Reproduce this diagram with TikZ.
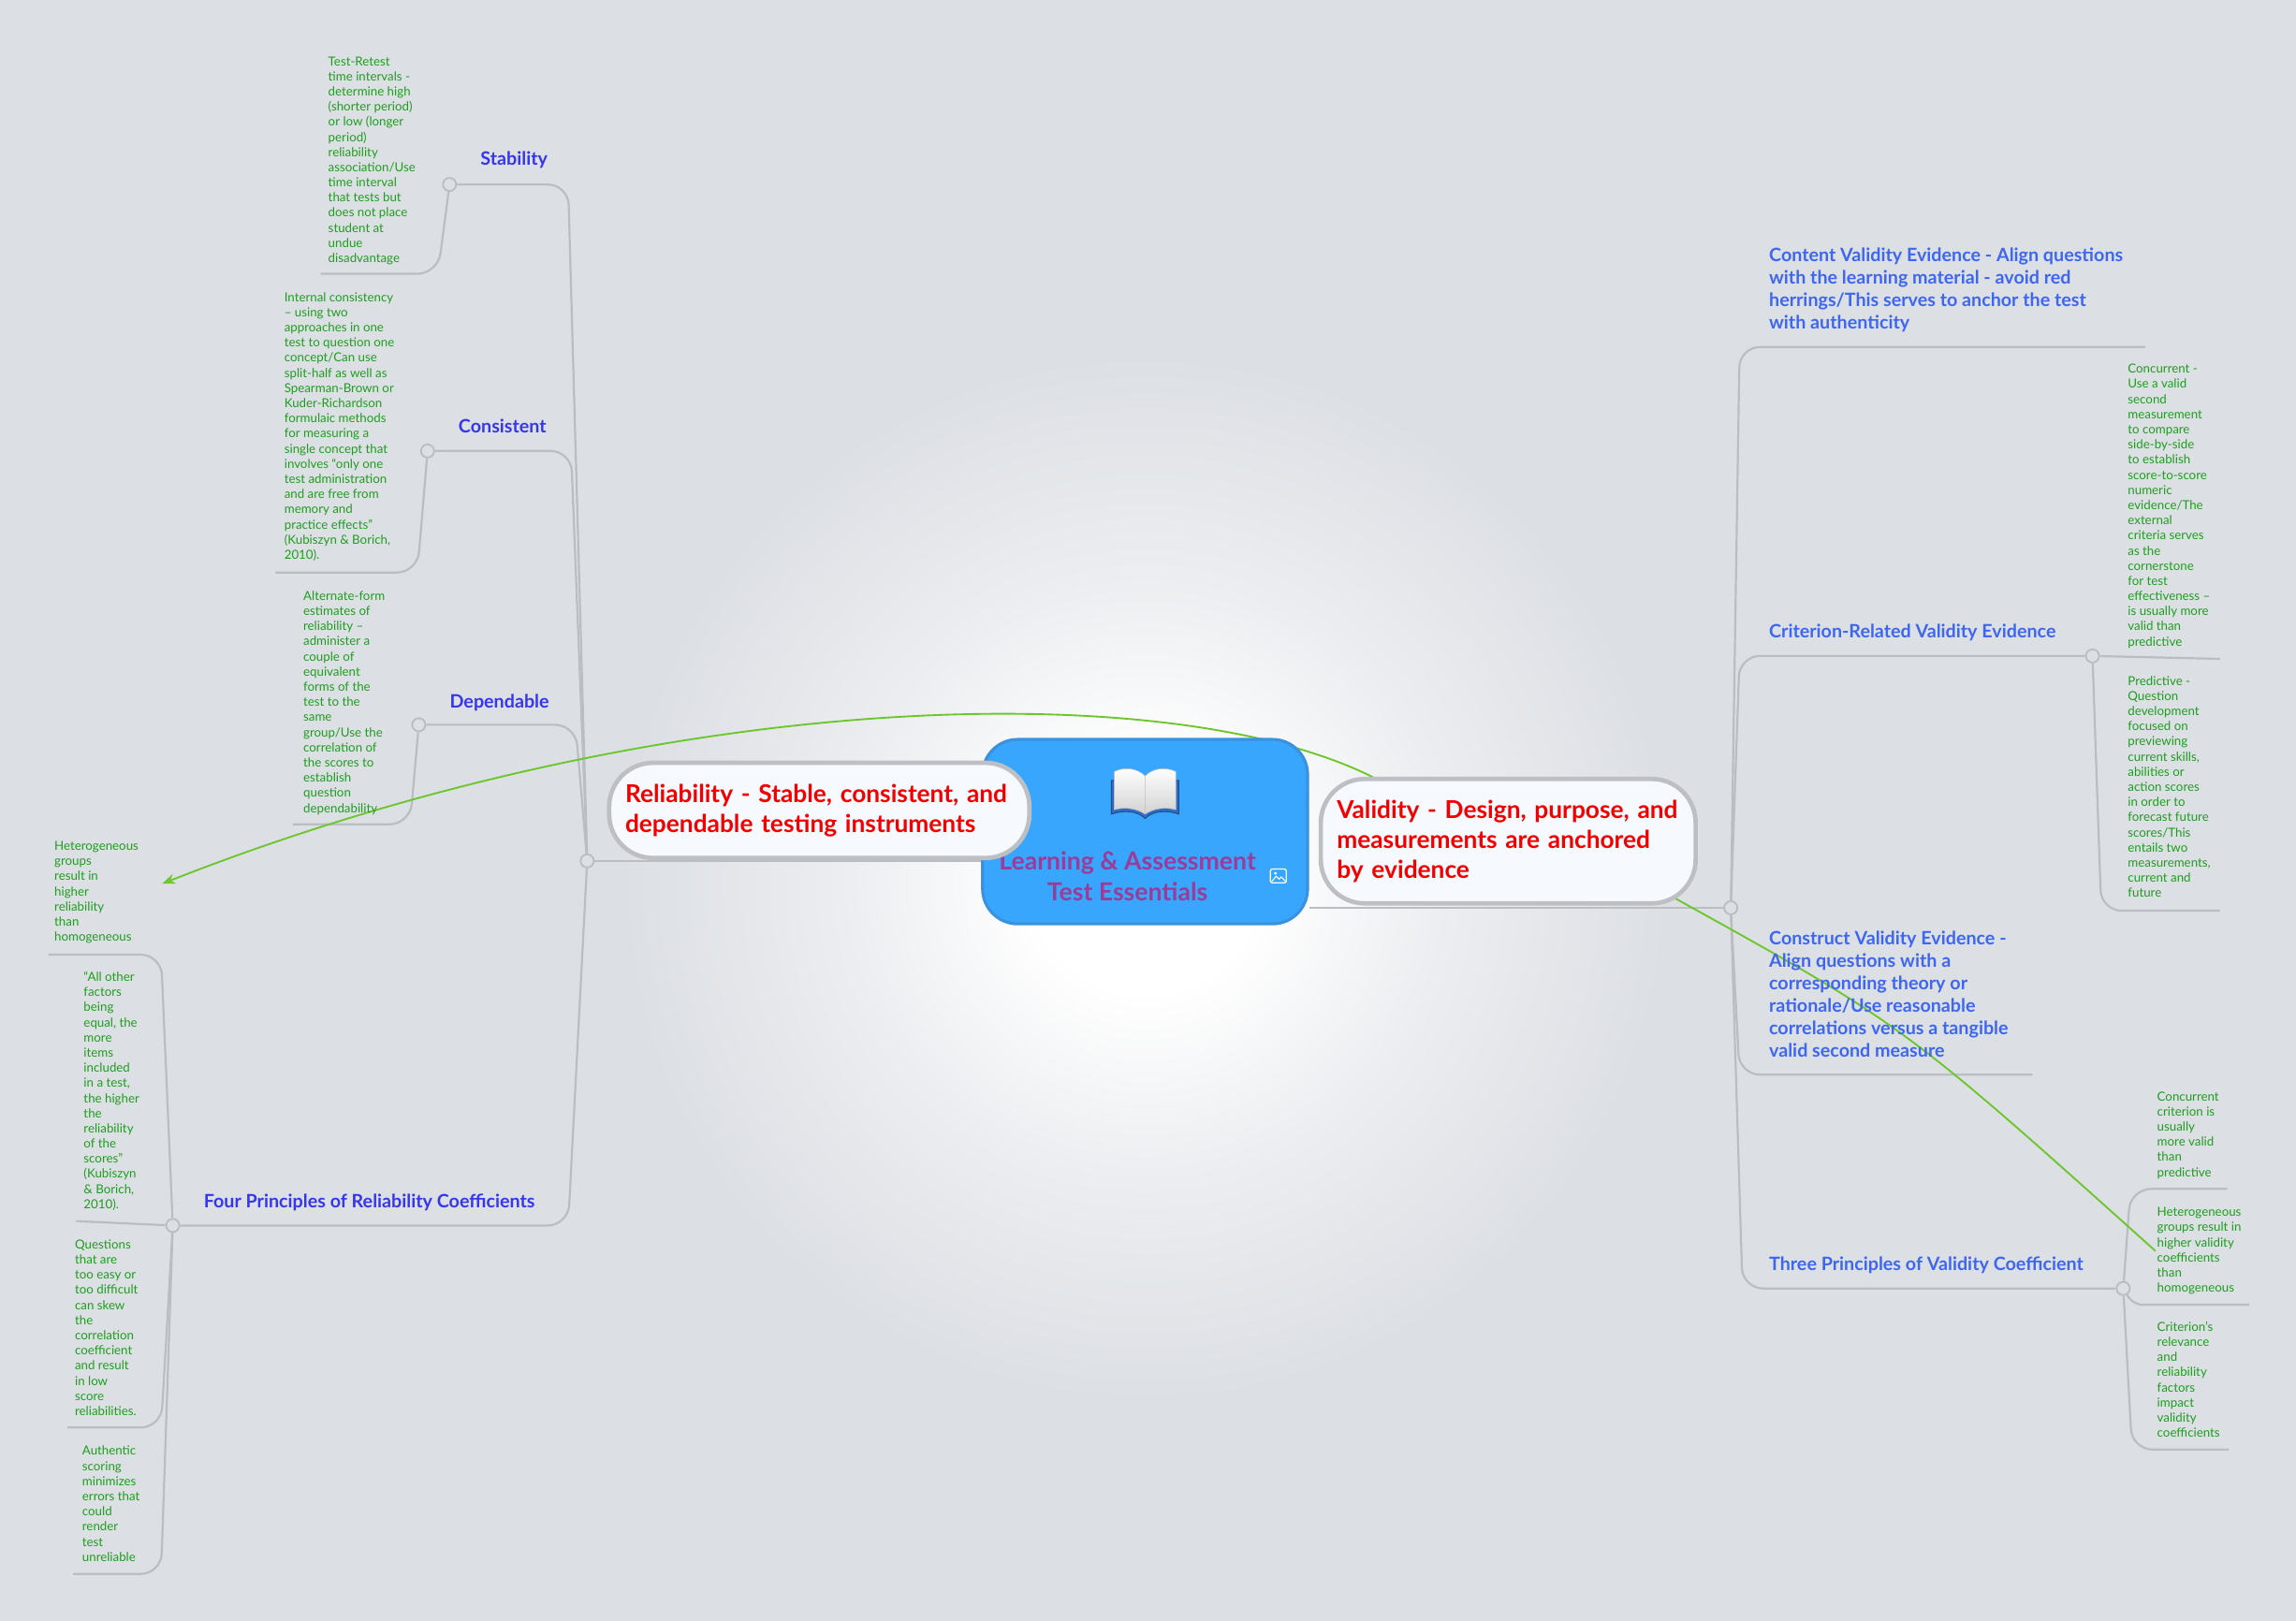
\documentclass[tikz,border=0pt]{standalone}
\usepackage{fontspec}
\setmainfont{Lato}
\usetikzlibrary{arrows.meta,calc}

\definecolor{bgc}{HTML}{DCDFE4}
\definecolor{linegrey}{HTML}{BABDC1}
\definecolor{leafgreen}{HTML}{1E9E1E}
\definecolor{relgreen}{HTML}{6CC62C}
\definecolor{leftblue}{HTML}{3636EA}
\definecolor{rightblue}{HTML}{3D66F1}
\definecolor{topicred}{HTML}{F20000}
\definecolor{titlepurple}{HTML}{9B3C98}
\definecolor{ctrblue}{HTML}{38A6FD}
\definecolor{ctredge}{HTML}{3A92DE}
\definecolor{pillfill}{HTML}{F6F9FD}
\definecolor{pilledge}{HTML}{BDBFC3}
\definecolor{bookblue}{HTML}{2E6CC4}

\pgfdeclareradialshading{glow}{\pgfpoint{0bp}{0bp}}{color(0bp)=(white); color(3bp)=(white); color(8bp)=(white!45!bgc); color(14bp)=(bgc); color(25bp)=(bgc); color(50bp)=(bgc)}
\pgfdeclarelayer{bg}
\pgfdeclarelayer{lines}
\pgfsetlayers{bg,lines,main}

\tikzset{
  note/.style={font=\fontsize{8.5}{10.35}\selectfont, text=leafgreen, align=left, inner sep=0pt, anchor=north west},
  subl/.style={font=\bfseries\fontsize{12.6}{15.3}\selectfont, text=leftblue, align=left, inner sep=0pt, anchor=north west},
  subr/.style={subl, text=rightblue},
  pill/.style={draw=pilledge, line width=3pt, fill=pillfill, rounded corners=30pt, text=topicred,
    font=\bfseries\fontsize{16.8}{20.5}\selectfont, align=left, inner xsep=11pt},
  junc/.style={circle, draw=linegrey, line width=1.2pt, fill=bgc, minimum size=9pt, inner sep=0pt},
  branch/.style={draw=linegrey, line width=1.4pt, rounded corners=14pt},
  relation/.style={draw=relgreen, line width=1.2pt},
}

\begin{document}
\begin{tikzpicture}[x=1pt,y=-1pt]
\useasboundingbox (0,0) rectangle (1568,1107);
\begin{pgfonlayer}{bg}
  \fill[bgc] (0,0) rectangle (1568,1107);
  \begin{scope}
    \clip (0,0) rectangle (1568,1107);
    \shade[shading=glow] (782,600) circle (640pt);
  \end{scope}
\end{pgfonlayer}

% centre topic
\node[draw=ctredge, line width=2pt, fill=ctrblue, rounded corners=24pt,
      minimum width=222pt, minimum height=126pt] (ctr) at (782,568) {};
\begin{scope}[shift={(782,543)}] % book icon
  \fill[bookblue, draw=bookblue!70!black, line width=0.6pt]
    (-23,-10) -- (-23,13) .. controls (-14,10) and (-5,11) .. (0,16)
    .. controls (5,11) and (14,10) .. (23,13) -- (23,-10) -- cycle;
  \shade[top color=white, bottom color=gray!35, draw=gray!50, line width=0.4pt]
    (0,-13) .. controls (-6,-19) and (-15,-19) .. (-21,-16) -- (-21,10)
    .. controls (-14,8) and (-6,9) .. (0,13) -- cycle;
  \shade[top color=white, bottom color=gray!35, draw=gray!50, line width=0.4pt]
    (0,-13) .. controls (6,-19) and (15,-19) .. (21,-16) -- (21,10)
    .. controls (14,8) and (6,9) .. (0,13) -- cycle;
\end{scope}
\node[font=\bfseries\fontsize{17}{21}\selectfont, text=titlepurple, align=center] (title) at (770,598.5)
  {Learning \& Assessment\\Test Essentials};
\draw[white, line width=0.8pt, rounded corners=1.5pt] (867.5,593.5) rectangle (878.5,603); % image icon
\draw[white, line width=0.7pt] (868.5,602) -- (871.5,598.5) -- (873.5,600.5) -- (875,599) -- (878,602);
\fill[white] (871,596.5) circle (1pt);

% main topics
\node[pill, minimum width=287pt, minimum height=65pt, text width=265pt] (rel) at (559.5,553.5)
  {Reliability - Stable, consistent, and\\dependable testing instruments};
\node[pill, minimum width=256pt, minimum height=85pt, text width=234pt] (val) at (1030,574.5)
  {Validity - Design, purpose, and\\measurements are anchored\\by evidence};

% junctions
\node[junc] (jL) at (401,588) {};
\node[junc] (jR) at (1182,620) {};
\node[junc] (stabC) at (307,126) {};
\node[junc] (conC) at (292,308) {};
\node[junc] (depC) at (286,495) {};
\node[junc] (fpC) at (118,837) {};
\node[junc] (crC) at (1429,448) {};
\node[junc] (thrC) at (1450,880) {};

% sub topics, left
\node[subl] (stab) at (328,103) {Stability};
\node[subl] (cons) at (313,286) {Consistent};
\node[subl] (dep) at (307,474) {Dependable};
\node[subl] (fp) at (139,815) {Four Principles of Reliability Coefficients};
% sub topics, right
\node[subr] (cv) at (1208,169) {Content Validity Evidence - Align questions\\with the learning material - avoid red\\herrings/This serves to anchor the test\\with authenticity};
\node[subr] (crv) at (1208,426) {Criterion-Related Validity Evidence};
\node[subr] (cn) at (1208,636) {Construct Validity Evidence -\\Align questions with a\\corresponding theory or\\rationale/Use reasonable\\correlations versus a tangible\\valid second measure};
\node[subr] (th) at (1208,858) {Three Principles of Validity Coefficient};

% notes
\node[note] (tr) at (224,38.5) {Test-Retest\\time intervals -\\determine high\\(shorter period)\\or low (longer\\period)\\reliability\\association/Use\\time interval\\that tests but\\does not place\\student at\\undue\\disadvantage};
\node[note] (ic) at (194,199.5) {Internal consistency\\– using two\\approaches in one\\test to question one\\concept/Can use\\split-half as well as\\Spearman-Brown or\\Kuder-Richardson\\formulaic methods\\for measuring a\\single concept that\\involves “only one\\test administration\\and are free from\\memory and\\practice effects”\\(Kubiszyn \& Borich,\\2010).};
\node[note] (af) at (207,403.5) {Alternate-form\\estimates of\\reliability –\\administer a\\couple of\\equivalent\\forms of the\\test to the\\same\\group/Use the\\correlation of\\the scores to\\establish\\question\\dependability};
\node[note] (hr) at (37,574.5) {Heterogeneous\\groups\\result in\\higher\\reliability\\than\\homogeneous};
\node[note] (ao) at (57,663.5) {“All other\\factors\\being\\equal, the\\more\\items\\included\\in a test,\\the higher\\the\\reliability\\of the\\scores”\\(Kubiszyn\\\& Borich,\\2010).};
\node[note] (qu) at (51,846.5) {Questions\\that are\\too easy or\\too difficult\\can skew\\the\\correlation\\coefficient\\and result\\in low\\score\\reliabilities.};
\node[note] (au) at (56,987.5) {Authentic\\scoring\\minimizes\\errors that\\could\\render\\test\\unreliable};
\node[note] (cc) at (1453,248.5) {Concurrent -\\Use a valid\\second\\measurement\\to compare\\side-by-side\\to establish\\score-to-score\\numeric\\evidence/The\\external\\criteria serves\\as the\\cornerstone\\for test\\effectiveness –\\is usually more\\valid than\\predictive};
\node[note] (pr) at (1453,461.5) {Predictive -\\Question\\development\\focused on\\previewing\\current skills,\\abilities or\\action scores\\in order to\\forecast future\\scores/This\\entails two\\measurements,\\current and\\future};
\node[note] (cr) at (1473,745.5) {Concurrent\\criterion is\\usually\\more valid\\than\\predictive};
\node[note] (hv) at (1473,824.5) {Heterogeneous\\groups result in\\higher validity\\coefficients\\than\\homogeneous};
\node[note] (rl) at (1473,902.5) {Criterion’s\\relevance\\and\\reliability\\factors\\impact\\validity\\coefficients};

% free ends of the underlines
\coordinate (trEnd) at (219,187);
\coordinate (icEnd) at (188,391);
\coordinate (afEnd) at (200,563);
\coordinate (hrEnd) at (33,652);
\coordinate (aoEnd) at (52,834);
\coordinate (quEnd) at (46,975);
\coordinate (auEnd) at (50,1075);
\coordinate (cvEnd) at (1465,237);
\coordinate (cnEnd) at (1388,734);
\coordinate (ccEnd) at (1516,450);
\coordinate (prEnd) at (1516,622);
\coordinate (crEnd) at (1521,812);
\coordinate (hvEnd) at (1536,891);
\coordinate (rlEnd) at (1522,990);
\coordinate (valTop) at (940,532);
\coordinate (valLow) at (1143,613);

\begin{pgfonlayer}{lines}
  % left tree
  \draw[branch] (jL) -- (jL -| ctr.west);
  \draw[branch] (jL) -- ([xshift=-13pt]jL |- stabC) -- (stabC);
  \draw[branch] (jL) -- ([xshift=-11pt]jL |- conC) -- (conC);
  \draw[branch] (jL) -- ([xshift=-8pt]jL |- depC) -- (depC);
  \draw[branch] (jL) -- ([xshift=-13pt]jL |- fpC) -- (fpC);
  \draw[branch] (stabC) -- ([xshift=-8pt]stabC |- trEnd) -- (trEnd);
  \draw[branch] (conC) -- ([xshift=-7pt]conC |- icEnd) -- (icEnd);
  \draw[branch] (depC) -- ([xshift=-6pt]depC |- afEnd) -- (afEnd);
  \draw[branch] (fpC) -- ([xshift=-8pt]fpC |- hrEnd) -- (hrEnd);
  \draw[branch] (fpC) -- ([xshift=-12pt,yshift=3pt]fpC) -- (aoEnd);
  \draw[branch] (fpC) -- ([xshift=-8pt]fpC |- quEnd) -- (quEnd);
  \draw[branch] (fpC) -- ([xshift=-8pt]fpC |- auEnd) -- (auEnd);
  % right tree
  \draw[branch] (jR) -- (jR -| ctr.east);
  \draw[branch] (jR) -- ([xshift=6pt]jR |- cvEnd) -- (cvEnd);
  \draw[branch] (jR) -- ([xshift=6pt]jR |- crC) -- (crC);
  \draw[branch] (jR) -- ([xshift=6pt]jR |- cnEnd) -- (cnEnd);
  \draw[branch] (jR) -- ([xshift=8pt]jR |- thrC) -- (thrC);
  \draw[branch] (crC) -- ([xshift=14pt,yshift=-2pt]crC) -- (ccEnd);
  \draw[branch] (crC) -- ([xshift=6pt]crC |- prEnd) -- (prEnd);
  \draw[branch] (thrC) -- ([xshift=5pt]thrC |- crEnd) -- (crEnd);
  \draw[branch] (thrC) to[out=-60,in=180] (1475,891) -- (hvEnd);
  \draw[branch] (thrC) -- ([xshift=6pt]thrC |- rlEnd) -- (rlEnd);
  % relationships
  \draw[relation, -{Stealth[length=9pt,width=7pt]}] (valTop) .. controls (800,460) and (450,470) .. ([xshift=16pt,yshift=6pt]hr.east);
  \draw[relation] (valLow) .. controls (1300,700) .. ([xshift=-1pt]hv.west);
\end{pgfonlayer}
\end{tikzpicture}
\end{document}
